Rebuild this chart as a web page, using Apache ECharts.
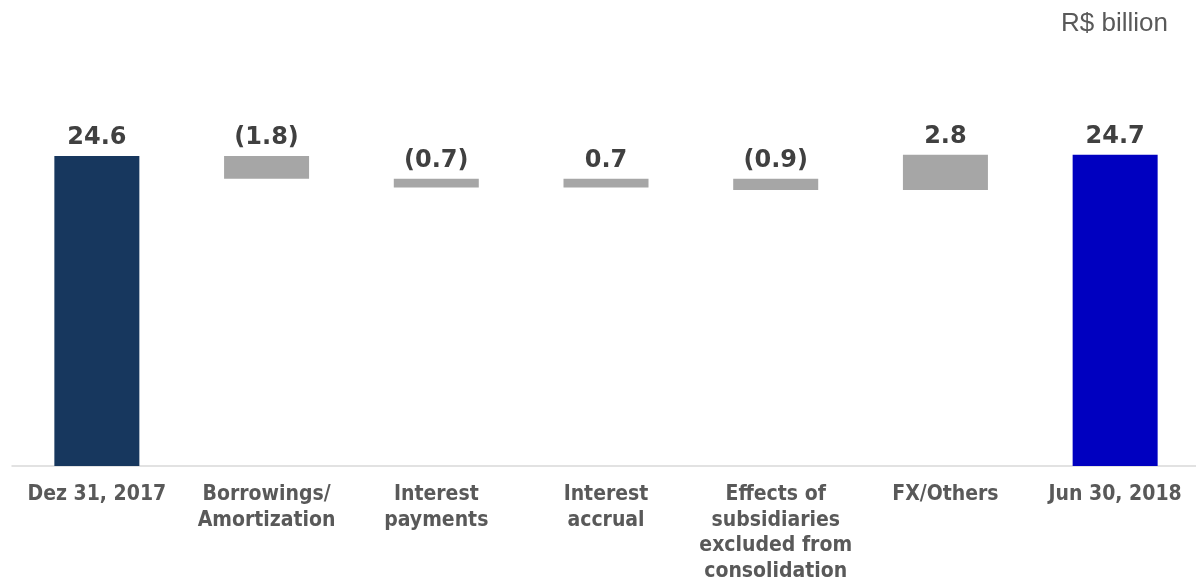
<!DOCTYPE html>
<html>
<head>
<meta charset="utf-8">
<script src="https://cdn.jsdelivr.net/npm/echarts@6/dist/echarts.min.js"></script>
<style>
html,body{margin:0;padding:0;background:#fff;}
#main{width:1196px;height:578px;}
</style>
</head>
<body>
<div id="main"></div>
<script>
const categories = ["Dez 31, 2017", "Borrowings/\nAmortization", "Interest\npayments", "Interest\naccrual", "Effects of\nsubsidiaries\nexcluded from\nconsolidation", "FX/Others", "Jun 30, 2018"];
const changes = [24.6, -1.8, -0.7, 0.7, -0.9, 2.8, 24.7];
const isTotal = [true, false, false, false, false, false, true];
const valueLabels = ["24.6", "(1.8)", "(0.7)", "0.7", "(0.9)", "2.8", "24.7"];
const unitLabel = "R$ billion";

const colTotalStart = "#17375e", colTotalEnd = "#0000c0", colDelta = "#a6a6a6";

const base = [], height = [];
let running = 0;
changes.forEach((v, i) => {
  if (isTotal[i]) { base.push(0); height.push(v); running = v; }
  else {
    const next = running + v;
    base.push(Math.min(running, next));
    height.push(Math.abs(v));
    running = next;
  }
});

const chart = echarts.init(document.getElementById('main'));
chart.setOption({
  animation: false,
  title: {
    text: unitLabel, right: 28, top: 11, padding: 0,
    textStyle: { fontFamily: 'Liberation Sans', fontWeight: 'normal', fontSize: 26, color: '#595959' }
  },
  grid: { left: 12, right: -4, top: 88, bottom: 112, containLabel: false, outerBoundsMode: 'none' },
  xAxis: {
    type: 'category', data: categories,
    axisLine: { show: true, lineStyle: { color: '#d9d9d9', width: 1.5 } },
    axisTick: { show: false },
    axisLabel: { interval: 0, margin: 16, lineHeight: 25.5, fontFamily: 'DejaVu Sans Condensed', fontWeight: 'bold', fontSize: 21, color: '#595959' }
  },
  yAxis: { type: 'value', min: 0, max: 30, show: false, splitLine: { show: false } },
  series: [
    { type: 'bar', stack: 'w', data: base, itemStyle: { color: 'transparent' }, barWidth: 85, silent: true },
    {
      type: 'bar', stack: 'w', barWidth: 85,
      data: height.map((h, i) => ({
        value: h,
        itemStyle: { color: i === 0 ? colTotalStart : (i === changes.length - 1 ? colTotalEnd : colDelta) }
      })),
      label: {
        show: true, position: 'top', distance: 6,
        formatter: p => valueLabels[p.dataIndex],
        fontFamily: 'DejaVu Sans', fontWeight: 'bold', fontSize: 24, color: '#404040'
      }
    }
  ]
});
</script>
</body>
</html>
